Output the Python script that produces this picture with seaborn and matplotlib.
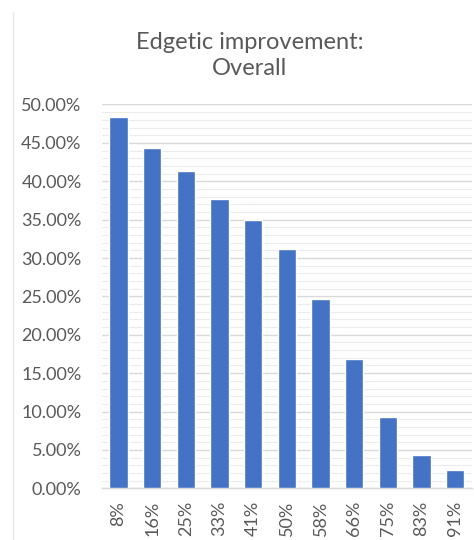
import matplotlib
matplotlib.use("Agg")
import matplotlib.pyplot as plt
from matplotlib.lines import Line2D
from matplotlib.ticker import MultipleLocator, PercentFormatter
import seaborn as sns
import pandas as pd

categories = ["8%", "16%", "25%", "33%", "41%", "50%", "58%", "66%", "75%", "83%", "91%"]
improvement = [48.35, 44.28, 41.37, 37.73, 34.95, 31.17, 24.67, 16.91, 9.24, 4.29, 2.34]

df = pd.DataFrame({"threshold": categories, "improvement": improvement})

sns.set_style("white")
plt.rcParams["font.family"] = ["Lato", "DejaVu Sans"]

text_grey = "#595959"
fig = plt.figure(figsize=(4.74, 5.4), dpi=100)
ax = fig.add_axes([0.2146, 0.0957, 0.7812, 0.7108])

sns.barplot(data=df, x="threshold", y="improvement", color="#4472C4",
            saturation=1, width=0.55, ax=ax, zorder=3)

ax.set_ylim(0, 50)
ax.set_xlim(-0.5, len(categories) - 0.5)
ax.yaxis.set_major_locator(MultipleLocator(5))
ax.yaxis.set_minor_locator(MultipleLocator(1))
ax.yaxis.set_major_formatter(PercentFormatter(100, decimals=2))
ax.grid(axis="y", which="major", color="#d9d9d9", linewidth=1.0, zorder=0)
ax.grid(axis="y", which="minor", color="#ececec", linewidth=0.8, zorder=0)
ax.set_axisbelow(True)

for side in ["top", "right", "left"]:
    ax.spines[side].set_visible(False)
ax.spines["bottom"].set_color("#d9d9d9")
ax.spines["bottom"].set_linewidth(1.0)

ax.tick_params(axis="both", which="both", length=0, colors=text_grey)
ax.tick_params(axis="y", labelsize=13, pad=14.5)
ax.tick_params(axis="x", labelsize=13, pad=9, labelrotation=90)
ax.set_xlabel("")
ax.set_ylabel("")

fig.text(0.527, 0.898, "Edgetic improvement:\nOverall", ha="center", va="center",
         fontsize=17, color=text_grey, linespacing=1.3)

# chart frame edge on the left
fig.add_artist(Line2D([13 / 474, 13 / 474], [0, 1 - 12 / 540], transform=fig.transFigure,
                      color="#e8e8e8", linewidth=1.0))

fig.savefig("out.png", dpi=100)
